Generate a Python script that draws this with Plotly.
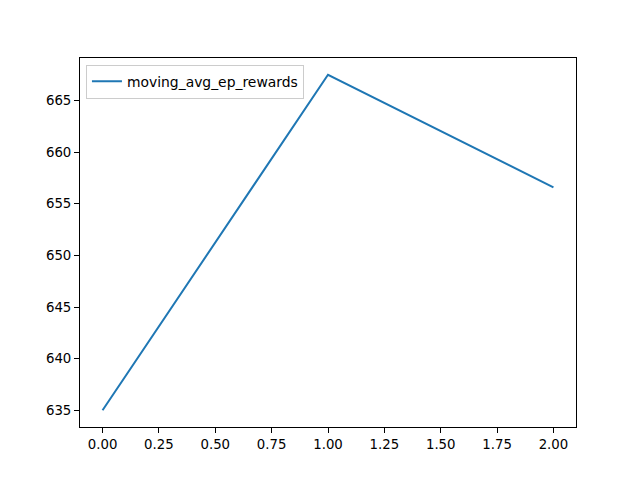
import plotly.graph_objects as go

x_vals = [0, 1, 2]
rewards = [635.0, 667.5, 656.6]
series_name = "moving_avg_ep_rewards"
x_ticks = [0.0, 0.25, 0.5, 0.75, 1.0, 1.25, 1.5, 1.75, 2.0]
x_tick_text = ["0.00", "0.25", "0.50", "0.75", "1.00", "1.25", "1.50", "1.75", "2.00"]
y_ticks = [635, 640, 645, 650, 655, 660, 665]

fig = go.Figure()
fig.add_trace(go.Scatter(x=x_vals, y=rewards, mode="lines", name=series_name,
                         line=dict(color="#1f77b4", width=2)))

ymin, ymax = min(rewards), max(rewards)
pad = (ymax - ymin) * 0.05
axis_common = dict(showline=True, linecolor="black", linewidth=1, mirror=True,
                   ticks="outside", ticklen=5, tickcolor="black", showgrid=False,
                   zeroline=False, tickfont=dict(size=13.3, color="black"))
fig.update_layout(
    width=640, height=480,
    margin=dict(l=72, r=72, t=50, b=61),
    paper_bgcolor="white", plot_bgcolor="white",
    font=dict(family="DejaVu Sans", size=13.3, color="black"),
    xaxis=dict(range=[-0.1, 2.1], tickvals=x_ticks, ticktext=x_tick_text, **axis_common),
    yaxis=dict(range=[ymin - pad, ymax + pad], tickvals=y_ticks, **axis_common),
    showlegend=True,
    legend=dict(x=0.012, y=0.982, xanchor="left", yanchor="top",
                bgcolor="rgba(255,255,255,0.8)", bordercolor="#cccccc", borderwidth=1,
                font=dict(size=13.9)),
)
fig.write_html("out.html")
